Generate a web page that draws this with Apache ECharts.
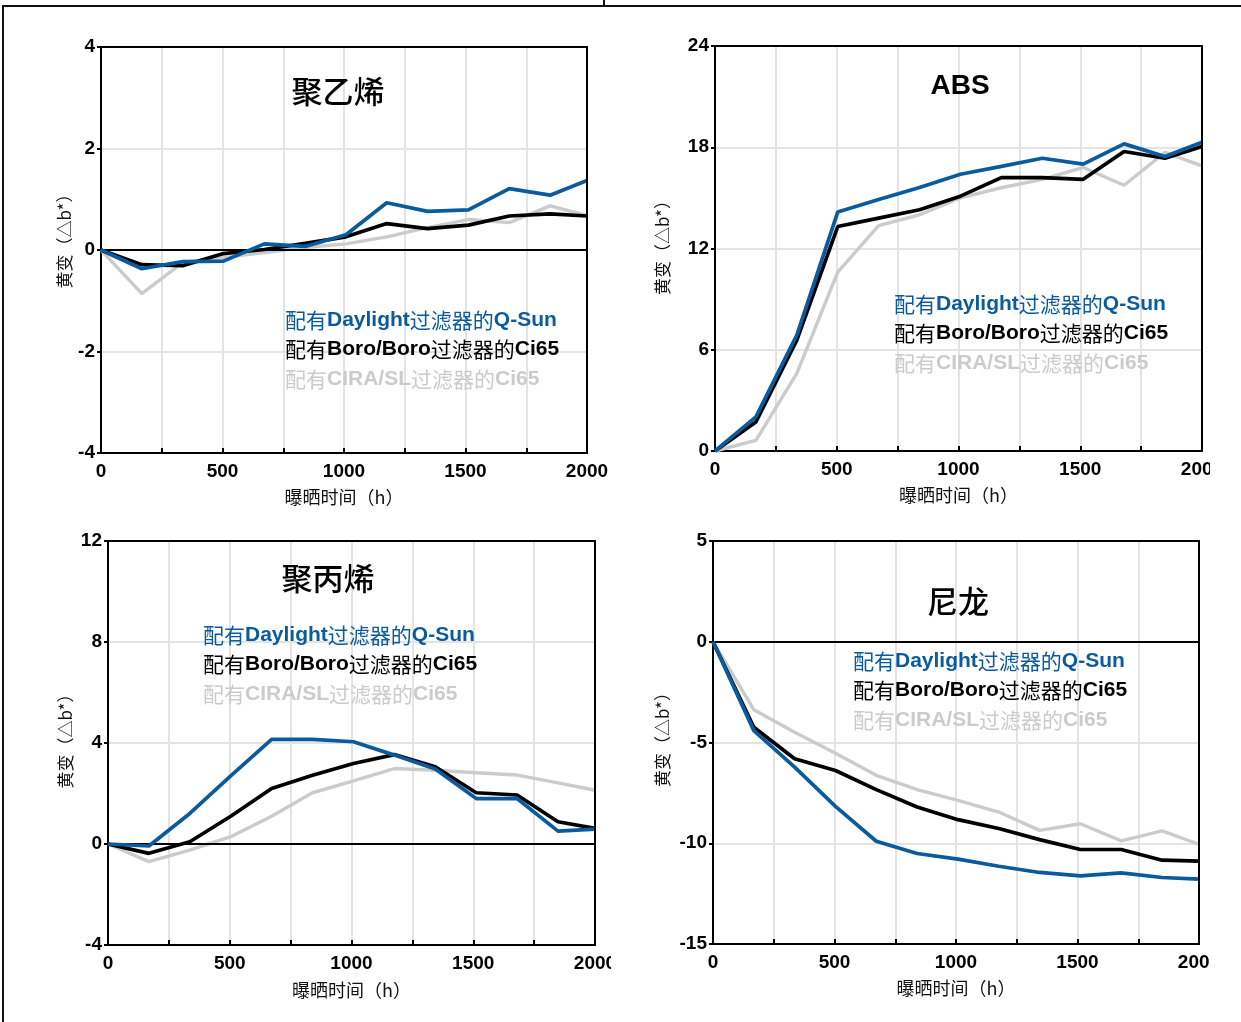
<!DOCTYPE html>
<html>
<head>
<meta charset="utf-8">
<script src="https://cdn.jsdelivr.net/npm/echarts@6/dist/echarts.min.js"></script>
<style>
  html, body { margin:0; padding:0; background:#fff; }
  #page { position:relative; width:1241px; height:1022px; overflow:hidden; background:#fff; }
  .panel { position:absolute; overflow:hidden; }
  #frameTop { position:absolute; left:3px; top:5px; width:1238px; height:2px; background:#111; z-index:5; }
  #frameLeft { position:absolute; left:2px; top:5px; width:2px; height:1017px; background:#111; z-index:5; }
  #frameTick { position:absolute; left:603px; top:0px; width:2px; height:6px; background:#111; z-index:5; }
</style>
</head>
<body>
<div id="page">
  <div id="p1" class="panel" style="left:0px;top:0px;width:620px;height:510px;"></div>
  <div id="p2" class="panel" style="left:620px;top:0px;width:590px;height:510px;"></div>
  <div id="p3" class="panel" style="left:0px;top:510px;width:611px;height:512px;"></div>
  <div id="p4" class="panel" style="left:620px;top:510px;width:590px;height:512px;"></div>
  <div id="frameTop"></div>
  <div id="frameLeft"></div>
  <div id="frameTick"></div>
</div>
<script>
// ---------- data ----------
const hours = [0, 168, 336, 504, 672, 840, 1008, 1176, 1344, 1512, 1680, 1848, 2000];

const seriesNames = ['配有Daylight过滤器的Q-Sun', '配有Boro/Boro过滤器的Ci65', '配有CIRA/SL过滤器的Ci65'];

const titles = ['聚乙烯', 'ABS', '聚丙烯', '尼龙'];
const xAxisName = '曝晒时间（h）';
const yAxisName = '黄变（△b*）';

// 聚乙烯 (PE)
const pe_qsun = [0, -0.37, -0.23, -0.22, 0.12, 0.07, 0.30, 0.93, 0.76, 0.79, 1.21, 1.08, 1.37];
const pe_boro = [0, -0.29, -0.31, -0.07, 0.01, 0.13, 0.26, 0.52, 0.42, 0.49, 0.67, 0.71, 0.67];
const pe_cira = [0, -0.86, -0.25, -0.15, -0.05, 0.05, 0.12, 0.26, 0.44, 0.60, 0.54, 0.87, 0.68];

// ABS
const abs_qsun = [0, 2.02, 6.87, 14.16, 14.9, 15.62, 16.4, 16.87, 17.35, 17.0, 18.2, 17.45, 18.3];
const abs_boro = [0, 1.72, 6.57, 13.3, 13.8, 14.3, 15.1, 16.2, 16.2, 16.1, 17.75, 17.35, 18.05];
const abs_cira = [0, 0.63, 4.6, 10.6, 13.35, 14.0, 15.0, 15.6, 16.1, 16.8, 15.75, 17.7, 16.9];

// 聚丙烯 (PP)
const pp_qsun = [0, -0.08, 1.21, 2.7, 4.14, 4.14, 4.05, 3.52, 2.97, 1.80, 1.80, 0.51, 0.59];
const pp_boro = [0, -0.37, 0.09, 1.1, 2.2, 2.72, 3.19, 3.54, 3.06, 2.03, 1.94, 0.88, 0.62];
const pp_cira = [0, -0.7, -0.24, 0.29, 1.1, 2.03, 2.5, 2.99, 2.92, 2.82, 2.73, 2.42, 2.13];

// 尼龙 (Nylon)
const ny_qsun = [0, -4.41, -6.22, -8.17, -9.9, -10.51, -10.79, -11.14, -11.45, -11.62, -11.47, -11.7, -11.78];
const ny_boro = [0, -4.24, -5.81, -6.39, -7.34, -8.2, -8.83, -9.27, -9.82, -10.31, -10.31, -10.84, -10.89];
const ny_cira = [0, -3.37, -4.49, -5.53, -6.63, -7.34, -7.87, -8.45, -9.36, -9.03, -9.88, -9.39, -10.05];

// y-axis ranges [min, max, interval]
const yRanges = [[-4, 4, 2], [0, 24, 6], [-4, 12, 4], [-15, 5, 5]];

// ---------- styling ----------
const COLORS = ['#0a5a9e', '#000000', '#cbcbcb'];
const LATIN = '"Liberation Sans", Arial, Helvetica, sans-serif';
const CJK = '"Noto Sans CJK SC", "Noto Sans", sans-serif';
const GRIDC = '#e3e3e3';

function zip(xs, ys) { return xs.map((x, i) => [x, ys[i]]); }

function richName(name) {
  const parts = name.match(/[\u4e00-\u9fff]+|[^\u4e00-\u9fff]+/g);
  return parts.map(p => (/[\u4e00-\u9fff]/.test(p) ? '{c|' + p + '}' : '{l|' + p + '}')).join('');
}

function makePanel(id, cfg) {
  const chart = echarts.init(document.getElementById(id), null, { renderer: 'canvas' });
  const [ymin, ymax, yint] = cfg.yRange;
  const data = cfg.data;
  const series = [];
  // draw gray first, then black, then blue on top
  [2, 1, 0].forEach(k => {
    const s = {
      name: seriesNames[k],
      type: 'line',
      xAxisIndex: 0, yAxisIndex: 0,
      data: zip(hours, data[k]),
      showSymbol: false,
      symbol: 'none',
      clip: true,
      z: 3 + (2 - k),
      lineStyle: { color: COLORS[k], width: k === 2 ? 3.4 : 3.7 },
      itemStyle: { color: COLORS[k] },
      emphasis: { disabled: true },
      animation: false
    };
    if (k === 2 && cfg.zeroLine) {
      s.markLine = {
        silent: true, symbol: 'none', animation: false,
        label: { show: false },
        lineStyle: { color: '#000', width: 2, type: 'solid' },
        data: [{ yAxis: 0 }]
      };
    }
    series.push(s);
  });

  const frameAxisLine = { show: true, onZero: false, lineStyle: { color: '#000', width: 2 } };

  const option = {
    backgroundColor: 'transparent',
    animation: false,
    grid: {
      left: cfg.grid[0], top: cfg.grid[1], width: cfg.grid[2], height: cfg.grid[3],
      show: false, containLabel: false, outerBoundsMode: 'none'
    },
    xAxis: [{
      type: 'value', min: 0, max: 2000, interval: 500, position: 'bottom', z: 1,
      name: xAxisName, nameLocation: 'middle', nameGap: cfg.xNameGap, nameMoveOverlap: false,
      nameTextStyle: { fontFamily: CJK, fontSize: 18, color: '#111' },
      axisLine: frameAxisLine,
      axisTick: { show: true, inside: true, length: 5, lineStyle: { color: '#000', width: 2 } },
      minorTick: { show: true, splitNumber: 2, length: 5, lineStyle: { color: '#000', width: 2 } },
      splitLine: { show: true, lineStyle: { color: GRIDC, width: 2 } },
      minorSplitLine: { show: true, lineStyle: { color: GRIDC, width: 2 } },
      axisLabel: {
        margin: 9, fontFamily: LATIN, fontWeight: 'bold', fontSize: 19, color: '#000',
        formatter: v => String(v)
      }
    }, {
      type: 'value', min: 0, max: 2000, interval: 500, position: 'top', z: 8,
      axisLine: frameAxisLine, axisTick: { show: false }, axisLabel: { show: false },
      splitLine: { show: false }
    }],
    yAxis: [{
      type: 'value', min: ymin, max: ymax, interval: yint, position: 'left', z: 1,
      name: yAxisName, nameLocation: 'middle', nameGap: cfg.yNameGap, nameRotate: 90, nameMoveOverlap: false,
      nameTextStyle: { fontFamily: CJK, fontSize: 17, color: '#111', padding: [0, 0, 0, cfg.yNameShift] },
      axisLine: frameAxisLine,
      axisTick: { show: true, inside: false, length: 4, lineStyle: { color: '#000', width: 2 } },
      splitLine: { show: true, lineStyle: { color: GRIDC, width: 2 } },
      axisLabel: {
        margin: 6, fontFamily: LATIN, fontWeight: 'bold', fontSize: 19, color: '#000',
        formatter: v => String(v)
      }
    }, {
      type: 'value', min: ymin, max: ymax, interval: yint, position: 'right', z: 8,
      axisLine: frameAxisLine, axisTick: { show: false }, axisLabel: { show: false },
      splitLine: { show: false }
    }],
    legend: {
      show: true, orient: 'vertical', left: cfg.legend[0], top: cfg.legend[1], z: 20,
      icon: 'none', itemWidth: 0, itemHeight: 22, itemGap: 7.5, padding: 0,
      selectedMode: false,
      data: [0, 1, 2].map(k => ({ name: seriesNames[k], textStyle: { color: COLORS[k] } })),
      formatter: richName,
      textStyle: {
        fontSize: 21, lineHeight: 22, padding: [0, 0, 0, -5],
        rich: {
          c: { fontFamily: CJK, fontSize: 21, fontWeight: 'normal', lineHeight: 22 },
          l: { fontFamily: LATIN, fontSize: 21, fontWeight: 'bold', lineHeight: 22 }
        }
      }
    },
    graphic: [{
      type: 'text', x: cfg.title[0], y: cfg.title[1], silent: true, z: 100,
      style: {
        text: cfg.titleText, align: 'center', verticalAlign: 'middle',
        font: cfg.titleFont, fill: '#000'
      }
    }],
    series: series
  };
  chart.setOption(option);
}

const CJK_TITLE_FONT = '500 31px "Noto Sans CJK SC", sans-serif';

makePanel('p1', {
  data: [pe_qsun, pe_boro, pe_cira], yRange: yRanges[0], zeroLine: true,
  grid: [101, 47, 486, 406], legend: [285, 309], xNameGap: 35, yNameGap: 28, yNameShift: 26,
  title: [338, 91], titleText: titles[0], titleFont: CJK_TITLE_FONT
});
makePanel('p2', {
  data: [abs_qsun, abs_boro, abs_cira], yRange: yRanges[1], zeroLine: false,
  grid: [95, 46, 487, 405], legend: [274, 293], xNameGap: 35, yNameGap: 44, yNameShift: 10,
  title: [340, 86], titleText: titles[1], titleFont: 'bold 28px "Liberation Sans", Arial, sans-serif'
});
makePanel('p3', {
  data: [pp_qsun, pp_boro, pp_cira], yRange: yRanges[2], zeroLine: true,
  grid: [108, 31, 487, 404], legend: [203, 114], xNameGap: 36, yNameGap: 34, yNameShift: 12,
  title: [328, 68], titleText: titles[2], titleFont: CJK_TITLE_FONT
});
makePanel('p4', {
  data: [ny_qsun, ny_boro, ny_cira], yRange: yRanges[3], zeroLine: true,
  grid: [93, 31, 486, 403], legend: [233, 140], xNameGap: 35, yNameGap: 42, yNameShift: 14,
  title: [338, 91], titleText: titles[3], titleFont: CJK_TITLE_FONT
});
</script>
</body>
</html>
